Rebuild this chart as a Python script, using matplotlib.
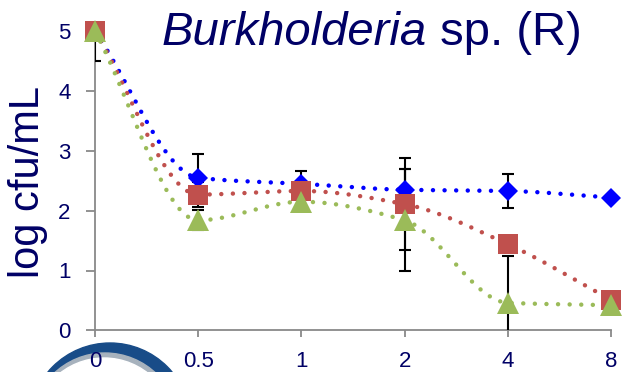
import numpy as np
import matplotlib
matplotlib.use("Agg")
import matplotlib.pyplot as plt
from matplotlib.patches import Circle

# data
categories = ["0", "0.5", "1", "2", "4", "8"]
blue_vals = [5.0, 2.55, 2.45, 2.35, 2.33, 2.22]
red_vals = [5.0, 2.27, 2.33, 2.11, 1.44, 0.51]
green_vals = [5.0, 1.84, 2.15, 1.84, 0.46, 0.42]
blue_err = [0.5, 0.39, 0.22, 0.34, 0.28, 0.0]
red_err = [0.0, 0.21, 0.10, 0.77, 0.12, 0.0]
green_err = [0.0, 0.17, 0.10, 0.85, 0.78, 0.0]

NAVY = "#000066"
GRAY = "#898989"
plt.rcParams["font.family"] = ["Liberation Sans", "DejaVu Sans"]


def smooth(xs, ys, n=40):
    # smoothed line through the points, no overshoot (monotone cubic)
    xs = np.asarray(xs, float)
    ys = np.asarray(ys, float)
    h = np.diff(xs)
    d = np.diff(ys) / h
    m = np.zeros_like(ys)
    for i in range(1, len(ys) - 1):
        if d[i - 1] * d[i] > 0:
            w1 = 2 * h[i] + h[i - 1]
            w2 = h[i] + 2 * h[i - 1]
            m[i] = (w1 + w2) / (w1 / d[i - 1] + w2 / d[i])
    m[0] = d[0]
    m[-1] = d[-1]
    sx, sy = [], []
    for i in range(len(xs) - 1):
        t = np.linspace(0, 1, n)
        h00 = 2 * t ** 3 - 3 * t ** 2 + 1
        h10 = t ** 3 - 2 * t ** 2 + t
        h01 = -2 * t ** 3 + 3 * t ** 2
        h11 = t ** 3 - t ** 2
        yy = h00 * ys[i] + h10 * h[i] * m[i] + h01 * ys[i + 1] + h11 * h[i] * m[i + 1]
        xx = xs[i] + t * h[i]
        start = 0 if i == 0 else 1
        sx.extend(xx[start:])
        sy.extend(yy[start:])
    return np.array(sx), np.array(sy)


fig = plt.figure(figsize=(6.24, 3.72), dpi=100)

# logo ring in the lower left corner
bg = fig.add_axes([0, 0, 1, 1], zorder=-1)
bg.set_xlim(0, 624)
bg.set_ylim(372, 0)
bg.axis("off")
bg.add_patch(Circle((110, 424), 81, color="#184C88"))
bg.add_patch(Circle((105, 427), 74, color="#A7B2BD"))
bg.add_patch(Circle((104, 429), 71, color="white"))

ax = fig.add_axes([95 / 624, 1 - 330.3 / 372, 516 / 624, 299 / 372])
ax.patch.set_alpha(0)
x = np.arange(len(categories))

series = [
    (blue_vals, blue_err, "#0000FF", "D", 10.5),
    (red_vals, red_err, "#C0504D", "s", 14.5),
    (green_vals, green_err, "#9BBB59", "^", 15.5),
]

for k, (vals, err, col, mk, ms) in enumerate(series):
    sx, sy = smooth(x, vals)
    ax.plot(sx, sy, color=col, lw=3.2, linestyle=(0, (0.01, 2.6)),
            dash_capstyle="round", zorder=2 + k * 0.1, clip_on=False)
    ax.errorbar(x, vals, yerr=err, fmt="none", ecolor="black", elinewidth=1.5,
                capsize=4.5, capthick=1.5, zorder=3)
    ax.plot(x, vals, linestyle="none", marker=mk, markersize=ms, color=col,
            markeredgewidth=0, zorder=4 + k * 0.1, clip_on=False)

ax.set_xlim(0, 5)
ax.set_ylim(0, 5)
ax.set_xticks(x)
ax.set_xticklabels(categories)
ax.set_yticks(range(6))

for s in ["top", "right"]:
    ax.spines[s].set_visible(False)
for s in ["left", "bottom"]:
    ax.spines[s].set_color(GRAY)
    ax.spines[s].set_linewidth(1.3)
ax.tick_params(axis="both", colors=GRAY, width=1.3, labelsize=16, labelcolor=NAVY)
ax.tick_params(axis="y", length=6.5, pad=11)
ax.tick_params(axis="x", length=5, pad=10)

fig.text(28 / 624, 1 - 182 / 372, "log cfu/mL", rotation=90, ha="center",
         va="center", fontsize=30, color=NAVY)

t1 = fig.text(162 / 624, 1 - 45 / 372, "Burkholderia", style="italic",
              fontsize=34, color=NAVY, ha="left", va="baseline")
ax.annotate(" sp. (R)", xy=(1, 0), xycoords=t1, ha="left", va="bottom",
            fontsize=34, color=NAVY, annotation_clip=False)

fig.savefig("out.png", dpi=100)
